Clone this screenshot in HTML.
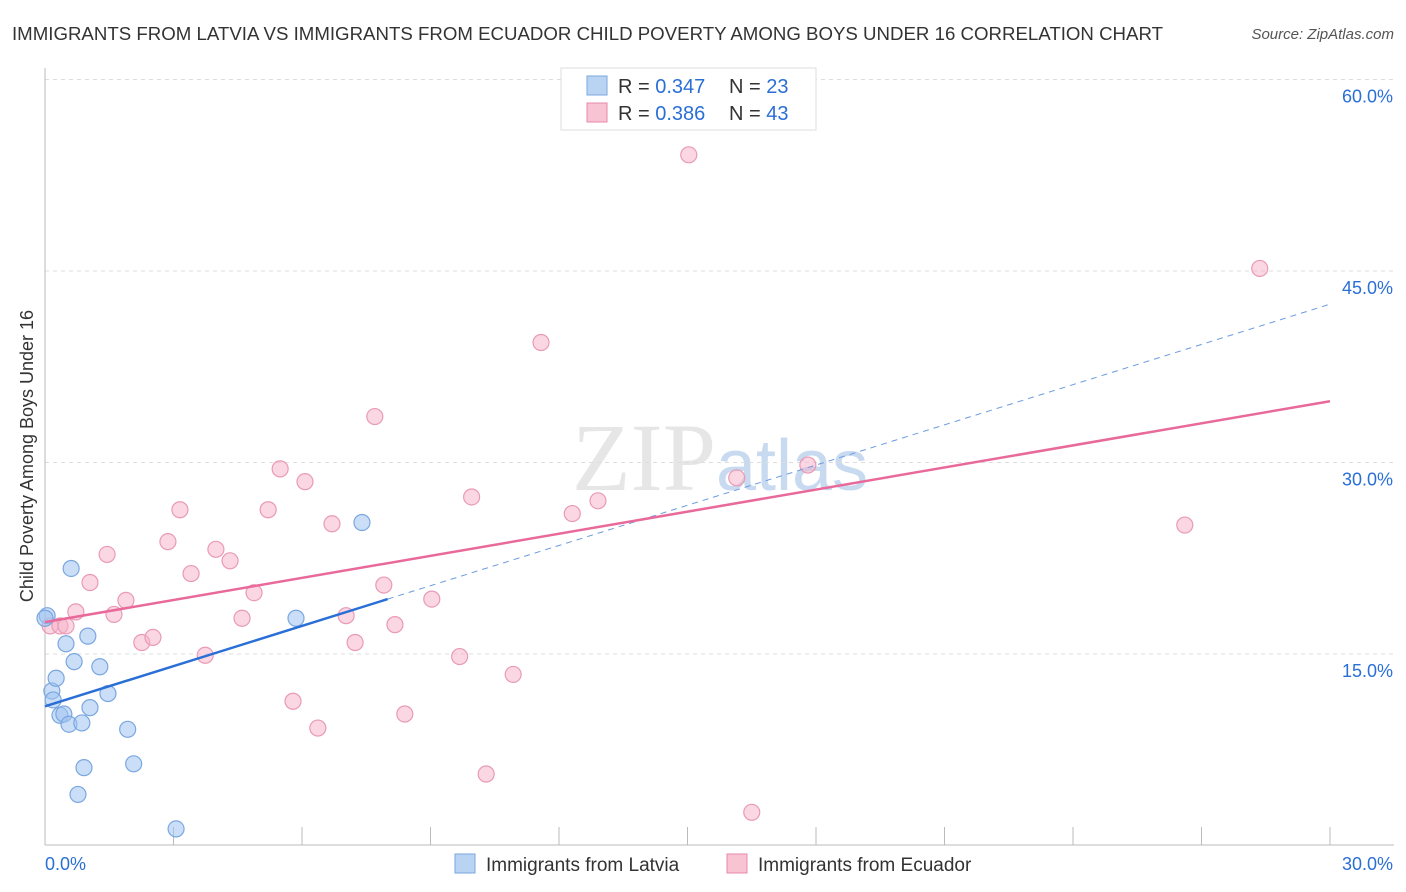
<!DOCTYPE html>
<html><head><meta charset="utf-8">
<style>
body{margin:0;background:#fff;font-family:"Liberation Sans",sans-serif;}
#wrap{position:relative;width:1406px;height:892px;overflow:hidden;}
</style></head>
<body>
<div id="wrap">
<svg id="svg" width="1406" height="892" xmlns="http://www.w3.org/2000/svg">
<text x="12" y="40" font-size="18" fill="#333" textLength="1151" lengthAdjust="spacingAndGlyphs">IMMIGRANTS FROM LATVIA VS IMMIGRANTS FROM ECUADOR CHILD POVERTY AMONG BOYS UNDER 16 CORRELATION CHART</text>
<text x="1394" y="39" font-size="15" fill="#555" text-anchor="end" font-style="italic">Source: ZipAtlas.com</text>
<text x="720" y="490" font-size="96" fill="#e6e6e6" text-anchor="middle" font-family="Liberation Serif, serif">ZIP<tspan fill="#c8daf0" font-family="Liberation Sans, sans-serif" font-size="72">atlas</tspan></text>
<text transform="translate(33,456) rotate(-90)" font-size="18" fill="#333" text-anchor="middle">Child Poverty Among Boys Under 16</text>
<g id="grid"></g><g id="marks"></g>
<g>
<rect x="561" y="68" width="255" height="62" fill="#fff" stroke="#ddd"/>
<rect x="587" y="76" width="20" height="19" fill="#b9d3f3" stroke="#7aa7e0"/>
<rect x="587" y="103" width="20" height="19" fill="#f8c3d3" stroke="#e88aa8"/>
<text x="618" y="93" font-size="20" fill="#333">R = <tspan fill="#2a6fd6">0.347</tspan></text>
<text x="729" y="93" font-size="20" fill="#333">N = <tspan fill="#2a6fd6">23</tspan></text>
<text x="618" y="120" font-size="20" fill="#333">R = <tspan fill="#2a6fd6">0.386</tspan></text>
<text x="729" y="120" font-size="20" fill="#333">N = <tspan fill="#2a6fd6">43</tspan></text>
</g>
<g>
<rect x="455" y="854" width="20" height="19" fill="#b9d3f3" stroke="#7aa7e0"/>
<text x="486" y="871" font-size="19" fill="#333">Immigrants from Latvia</text>
<rect x="727" y="854" width="20" height="19" fill="#f8c3d3" stroke="#e88aa8"/>
<text x="758" y="871" font-size="19" fill="#333">Immigrants from Ecuador</text>
</g>
</svg>
</div>
<script>
const yTicks=[15,30,45,60];
const yTickLabels=["15.0%","30.0%","45.0%","60.0%"];
const xTicks=[0,3,6,9,12,15,18,21,24,27,30];
const latviaX=[0.05,0.16,0.19,0.26,0.35,0.44,0.49,0.56,0.61,0.68,0.77,0.86,0.91,1.0,1.05,1.28,1.47,1.93,2.07,3.06,5.86,7.4,0.0];
const latviaY=[18.0,12.1,11.4,13.1,10.2,10.3,15.8,9.5,21.7,14.4,4.0,9.6,6.1,16.4,10.8,14.0,11.9,9.1,6.4,1.3,17.8,25.3,17.8];
const ecuadorX=[0.12,0.35,0.49,0.72,1.05,1.45,1.61,1.89,2.26,2.52,2.87,3.15,3.41,3.74,3.99,4.32,4.6,4.88,5.21,5.49,5.79,6.07,6.37,6.7,7.03,7.24,7.7,7.91,8.17,8.4,9.03,9.68,9.96,10.3,10.93,11.58,12.31,12.91,15.03,16.15,16.5,17.81,26.61,28.36];
const ecuadorY=[17.2,17.2,17.2,18.3,20.6,22.8,18.1,19.2,15.9,16.3,23.8,26.3,21.3,14.9,23.2,22.3,17.8,19.8,26.3,29.5,11.3,28.5,9.2,25.2,18.0,15.9,33.6,20.4,17.3,10.3,19.3,14.8,27.3,5.6,13.4,39.4,26.0,27.0,54.1,28.8,2.6,29.8,25.1,45.2];
const latviaTrendX=[0,8,30];
const latviaTrendY=[10.9,19.3,42.4];
const ecuadorTrendX=[0,30];
const ecuadorTrendY=[17.5,34.8];
const NS="http://www.w3.org/2000/svg";
const sx=v=>45+v/30*1285, sy=v=>845.5-v/15*191.5;
function mk(t,a,parent){const e=document.createElementNS(NS,t);for(const k in a)e.setAttribute(k,a[k]);parent.appendChild(e);return e;}
const grid=document.getElementById('grid'), marks=document.getElementById('marks');
yTicks.forEach((t,i)=>{
 let l=mk('line',{x1:45,x2:1394,y1:sy(t),y2:sy(t),stroke:'#ddd','stroke-dasharray':'4,4'},grid);
 
 
 let tx=mk('text',{x:1393,y:sy(t)+23,'font-size':18,fill:'#2a6fd6','text-anchor':'end'},grid);tx.textContent=yTickLabels[i];
 
 
});
let ax=mk('line',{x1:45,x2:45,y1:68,y2:845,stroke:'#bbb'},grid);


let bx=mk('line',{x1:45,x2:1394,y1:845,y2:845,stroke:'#bbb'},grid);


xTicks.forEach(t=>{let l=mk('line',{x1:sx(t),x2:sx(t),y1:827,y2:845,stroke:'#bbb'},grid);
 
 });
let x0=mk('text',{x:45,y:870,'font-size':18,fill:'#2a6fd6'},grid);x0.textContent='0.0%';


let x1=mk('text',{x:1393,y:870,'font-size':18,fill:'#2a6fd6','text-anchor':'end'},grid);x1.textContent='30.0%';


ecuadorX.forEach((x,i)=>{let c=mk('circle',{cx:sx(x),cy:sy(ecuadorY[i]),r:8,fill:'rgba(245,175,198,0.5)',stroke:'#e99ab5','stroke-width':1.2},marks);
 
 });
latviaX.forEach((x,i)=>{let c=mk('circle',{cx:sx(x),cy:sy(latviaY[i]),r:8,fill:'rgba(160,195,240,0.55)',stroke:'#7aa7e0','stroke-width':1.2},marks);
 
 });
let lb=mk('line',{x1:sx(latviaTrendX[0]),y1:sy(latviaTrendY[0]),x2:sx(latviaTrendX[1]),y2:sy(latviaTrendY[1]),stroke:'#2a6fd6','stroke-width':2.5},marks);


let lbd=mk('line',{x1:sx(latviaTrendX[1]),y1:sy(latviaTrendY[1]),x2:sx(latviaTrendX[2]),y2:sy(latviaTrendY[2]),stroke:'#6b9be0','stroke-width':1,'stroke-dasharray':'6,5'},marks);


let lp=mk('line',{x1:sx(ecuadorTrendX[0]),y1:sy(ecuadorTrendY[0]),x2:sx(ecuadorTrendX[1]),y2:sy(ecuadorTrendY[1]),stroke:'#e8699a','stroke-width':2.5},marks);


</script>
</body></html>
